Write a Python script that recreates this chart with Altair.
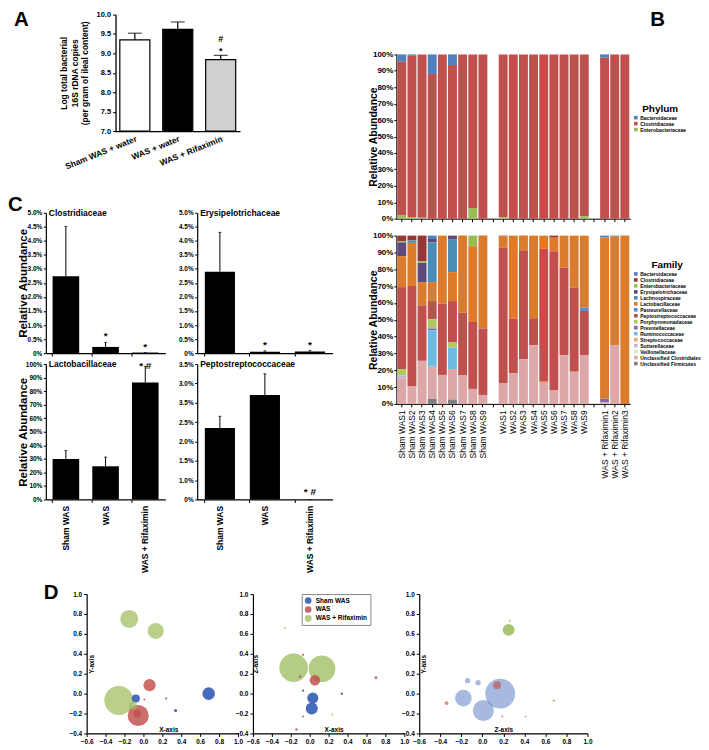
import altair as alt
import pandas as pd

FONT = "Liberation Sans"

# ---------------- Panel A data ----------------
a_groups = ["Sham WAS + water", "WAS + water", "WAS + Rifaximin"]
a_means = [9.35, 9.62, 8.84]
a_errs = [0.17, 0.19, 0.11]
a_star = ["", "", "*"]
a_hash = ["", "", "#"]
a_ticks = [7.0, 7.5, 8.0, 8.5, 9.0, 9.5, 10.0]
a_title = ["Log total bacterial", "16S rDNA copies", "(per gram of ileal content)"]
a_fills = ["white", "black", "#d0d0d0"]

# ---------------- Panel B data ----------------
sham_ids = ["Sham WAS1", "Sham WAS2", "Sham WAS3", "Sham WAS4", "Sham WAS5",
            "Sham WAS6", "Sham WAS7", "Sham WAS8", "Sham WAS9"]
was_ids = ["WAS1", "WAS2", "WAS3", "WAS4", "WAS5", "WAS6", "WAS7", "WAS8", "WAS9"]
rif_ids = ["WAS + Rifaximin1", "WAS + Rifaximin2", "WAS + Rifaximin3"]
sample_ids = sham_ids + was_ids + rif_ids
x_slots = sham_ids + [" "] + was_ids + ["  "] + rif_ids

phyla = ["Bacteroidaceae", "Clostridiaceae", "Enterobacteriaceae"]
phy_bacteroidaceae = [4.5, 0.5, 0, 12.0, 0, 6.5, 0, 0, 0,
                      0, 0, 0, 0, 0, 0, 0, 0, 0,
                      2.0, 0, 0]
phy_clostridiaceae = [93.5, 98.5, 99.5, 88.0, 100, 93.5, 100, 93.5, 100,
                      99.2, 100, 100, 100, 100, 100, 100, 100, 98.5,
                      98.0, 100, 100]
phy_enterobacteriaceae = [2.0, 1.0, 0.5, 0, 0, 0, 0, 6.5, 0,
                          0.8, 0, 0, 0, 0, 0, 0, 0, 1.5,
                          0, 0, 0]
phy_colors = ["#4F81BD", "#C0504D", "#9BBB59"]

families = ["Bacteroidaceae", "Clostridiaceae", "Enterobacteriaceae", "Erysipelotrichaceae",
            "Lachnospiraceae", "Lactobacillaceae", "Pasteurellaceae", "Peptostreptococcaceae",
            "Porphyromonadaceae", "Prevotellaceae", "Ruminococcaceae", "Streptococcaceae",
            "Sutterellaceae", "Veillonellaceae", "Unclassified Clostridiales",
            "Unclassified Firmicutes"]
f_bacteroidaceae = [0, 0, 0, 2.0, 0, 0, 0, 0, 0,   0, 0, 0, 0, 0, 0, 0, 0, 0,   1.2, 0.6, 0]
f_clostridiaceae = [3.4, 2.8, 15.2, 0, 0, 0, 0, 0, 0,   0.5, 0, 0, 0, 0, 1.2, 0, 0, 0,   0, 0, 0]
f_enterobacteriaceae = [0.6, 0, 1.0, 0, 0, 0, 0, 6.3, 0,   0, 0, 0, 0, 0, 0, 0, 0, 0,   0, 0, 0]
f_erysipelotrichaceae = [8.2, 0, 11.4, 2.0, 0, 2.4, 0, 0, 0,   0, 0, 0, 0, 0, 0, 0, 0, 0,   0, 0, 0]
f_lachnospiraceae = [0, 1.5, 0, 23.6, 0, 19.3, 0, 0, 0,   0, 0, 0, 0, 0, 0, 0, 0, 0,   0, 0, 0]
f_lactobacillaceae = [18.4, 25.7, 13.8, 11.3, 40.4, 17.2, 45.8, 45.0, 55.2,
                      6.8, 49.3, 8.7, 49.1, 7.9, 8.1, 19.1, 31.0, 42.8,
                      95.8, 64.5, 100.0]
f_pasteurellaceae = [0, 0, 0, 0, 0, 0, 0, 0, 0,   0, 0, 0, 0, 0, 0, 0, 0, 2.0,   0, 0, 0]
f_peptostreptococcaceae = [48.7, 59.7, 33.0, 10.8, 42.4, 24.6, 37.4, 39.8, 39.5,
                           80.3, 32.6, 64.7, 16.0, 78.9, 82.8, 51.9, 49.9, 26.2,
                           0, 0, 0]
f_porphyromonadaceae = [3.9, 0, 0, 5.5, 0, 3.0, 0, 0, 0,   0, 0, 0, 0, 0, 0, 0, 0, 0,   0, 0, 0]
f_prevotellaceae = [0, 0, 0, 1.0, 0, 0, 0, 0, 0,   0, 0, 0, 0, 0, 0, 0, 0, 0,   2.0, 0, 0]
f_ruminococcaceae = [0, 0, 0, 21.7, 0, 12.8, 0, 0, 0,   0, 0, 0, 0, 0, 0, 0, 0, 0,   0, 0, 0]
f_streptococcaceae = [0, 0, 0, 0, 0, 0, 0, 0, 0,   0, 0, 0, 0, 0.8, 0, 0, 0, 0,   0, 0, 0]
f_sutterellaceae = [1.6, 0, 0, 0, 0, 0, 0, 0, 0,   0, 0, 0, 0, 0, 0, 0, 0, 0,   0, 0, 0]
f_veillonellaceae = [0, 0, 0, 0, 0, 0, 0, 0, 0,   0, 0, 0, 0, 0, 0, 0, 0, 0,   0, 0, 0]
f_uncl_clostridiales = [15.2, 10.3, 25.6, 19.1, 17.2, 18.1, 16.8, 8.9, 5.3,
                        12.4, 18.1, 26.6, 34.9, 12.4, 7.9, 29.0, 19.1, 29.0,
                        1.0, 34.9, 0]
f_uncl_firmicutes = [0, 0, 0, 3.0, 0, 2.6, 0, 0, 0,   0, 0, 0, 0, 0, 0, 0, 0, 0,   0, 0, 0]
fam_colors = ["#4F81BD", "#953735", "#9BBB59", "#604A7B", "#4A8DB7", "#DB7B2B",
              "#558ED5", "#C0504D", "#B0C95E", "#7E6AAE", "#6FBBE0", "#F2A15F",
              "#C3B5D9", "#D8E4BC", "#DCA7A6", "#7F7F7F"]

# ---------------- Panel C data ----------------
c_groups = ["Sham WAS", "WAS", "WAS + Rifaximin"]
clos_mean = [2.74, 0.22, 0.02]
clos_err = [1.77, 0.16, 0.0]
clos_sig = ["", "*", "*"]
erys_mean = [2.9, 0.05, 0.06]
erys_err = [1.4, 0.03, 0.03]
erys_sig = ["", "*", "*"]
lact_mean = [29.8, 24.5, 86.3]
lact_err = [6.3, 6.8, 12.0]
lact_sig = ["", "", "* #"]
pept_mean = [1.85, 2.7, 0.0]
pept_err = [0.3, 0.55, 0.0]
pept_sig = ["", "", "* #"]
pct5_ticks = [0, 0.5, 1.0, 1.5, 2.0, 2.5, 3.0, 3.5, 4.0, 4.5, 5.0]
pct100_ticks = [0, 10, 20, 30, 40, 50, 60, 70, 80, 90, 100]
pept_ticks = [0, 0.5, 1.0, 1.5, 2.0, 2.5, 3.0, 3.5]
pept_tick_labels = ["0%", "1.0%", "1.5%", "2.0%", "2.5%", "3.5%", "3.0%", "3.5%"]

# ---------------- Panel D data ----------------
d_groups = ["Sham WAS", "WAS", "WAS + Rifaximin"]
d_colors = ["#3F63B8", "#C0504D", "#9BBB59"]
d_xticks = [-0.6, -0.4, -0.2, 0.0, 0.2, 0.4, 0.6, 0.8, 1.0]
d_yticks = [-0.4, -0.2, 0.0, 0.2, 0.4, 0.6, 0.8, 1.0]

d1_group = ["WAS + Rifaximin"] * 4 + ["WAS"] * 4 + ["Sham WAS"] * 4
d1_x = [-0.15, 0.13, -0.26, -0.11, 0.065, -0.055, -0.065, 0.01, -0.08, 0.69, 0.34, 0.24]
d1_y = [0.75, 0.63, -0.07, -0.12, 0.085, -0.22, -0.20, -0.06, -0.05, 0.0, -0.17, -0.05]
d1_s = [330, 260, 850, 60, 150, 450, 55, 4, 65, 160, 10, 4]

d2_group = ["WAS + Rifaximin"] * 4 + ["WAS"] * 6 + ["Sham WAS"] * 4
d2_x = [-0.17, 0.13, -0.26, 0.24, 0.055, -0.07, -0.10, 0.70, -0.14, -0.07, 0.033, 0.022, -0.07, 0.34]
d2_y = [0.26, 0.25, 0.66, -0.21, 0.135, 0.39, 0.17, 0.16, -0.36, -0.23, -0.045, -0.15, 0.03, 0.0]
d2_s = [820, 720, 4, 4, 110, 5, 6, 8, 6, 4, 125, 145, 5, 6]

d3_group = ["WAS + Rifaximin"] * 3 + ["WAS"] * 3 + ["Sham WAS"] * 6
d3_x = [0.25, 0.26, 0.68, 0.14, -0.34, 0.19, 0.17, 0.01, -0.18, -0.14, -0.04, 0.41]
d3_y = [0.64, 0.73, -0.07, 0.085, -0.095, -0.23, 0.0, -0.17, -0.045, 0.13, 0.11, -0.23]
d3_s = [140, 4, 6, 60, 15, 4, 900, 450, 280, 28, 28, 4]

RES = dict(color="independent", opacity="independent", size="independent")


# ---------------- helpers ----------------
def spacer(w, h):
    return (alt.Chart(pd.DataFrame({"s": [0]}))
            .mark_point(opacity=0)
            .encode(x=alt.value(0), y=alt.value(0))
            .properties(width=w, height=h))


def label_text(txt, x, y, size, align="left", baseline="alphabetic"):
    return (alt.Chart(pd.DataFrame({"t": [txt]}))
            .mark_text(align=align, baseline=baseline, fontSize=size,
                       fontWeight="bold", color="black")
            .encode(text="t:N", x=alt.value(x), y=alt.value(y)))


def letter(txt, x, y):
    return label_text(txt, x, y, 20.5)


# ---------------- Panel A ----------------
dfA = pd.DataFrame({"group": a_groups, "mean": a_means, "err": a_errs,
                    "star": a_star, "hash": a_hash})
dfA["top"] = dfA["mean"] + dfA["err"]
xA_axis = alt.Axis(title=None, labelAngle=-22, labelAlign="right", labelBaseline="top",
                   labelFontSize=8.5, labelFontWeight="bold", ticks=False,
                   labelPadding=3, domainWidth=1.3, labelLimit=0)
xA_scale = alt.Scale(domain=a_groups, paddingInner=0.3, paddingOuter=0.1)
xA = alt.X("group:N", sort=a_groups, scale=xA_scale, axis=xA_axis)
yA_axis = alt.Axis(values=a_ticks, format=".1f", title=a_title,
                   titleFontSize=8.5, titleFontWeight="bold", titleX=-47,
                   titleLineHeight=10.5, labelFontSize=7.5, labelFontWeight="bold",
                   tickSize=3, domainWidth=1.3, labelOverlap=False, labelFlush=False)
yA_scale = alt.Scale(domain=[7, 10], nice=False)
yA = alt.Y("mean:Q", scale=yA_scale, axis=yA_axis)
yA_top = alt.Y("top:Q", scale=yA_scale, axis=yA_axis)
baseA = alt.Chart(dfA)
barA = baseA.mark_bar(stroke="black", strokeWidth=1.2).encode(
    x=xA, y=yA, y2=alt.Y2(datum=7),
    fill=alt.Fill("group:N", scale=alt.Scale(domain=a_groups, range=a_fills), legend=None))
errA = baseA.mark_rule(color="black", strokeWidth=1.2).encode(x=xA, y=yA, y2="top:Q")
capA = baseA.mark_tick(color="black", thickness=1.2, size=14).encode(x=xA, y=yA_top)
starA = baseA.mark_text(fontSize=9, fontWeight="bold", baseline="alphabetic", dy=-1.5,
                        color="black").encode(x=xA, y=yA_top, text="star:N")
hashA = baseA.mark_text(fontSize=9, fontWeight="bold", baseline="alphabetic", dy=-13,
                        color="black").encode(x=xA, y=yA_top, text="hash:N")
panelA = alt.layer(barA, errA, capA, starA, hashA, letter("A", -102, 11)).properties(
    width=125, height=117)
rowA = alt.hconcat(spacer(70, 117), panelA, spacing=0, bounds="flush").resolve_scale(**RES)


# ---------------- Panel B ----------------
def long_table(names, series):
    rows = []
    for rank, (name, vals) in enumerate(zip(names, series)):
        for s, v in zip(sample_ids, vals):
            if v > 0:
                rows.append({"sample": s, "taxon": name, "value": v, "rank": rank})
    return pd.DataFrame(rows)


dfP = long_table(phyla, [phy_bacteroidaceae, phy_clostridiaceae, phy_enterobacteriaceae])
dfF = long_table(families, [f_bacteroidaceae, f_clostridiaceae, f_enterobacteriaceae,
                            f_erysipelotrichaceae, f_lachnospiraceae, f_lactobacillaceae,
                            f_pasteurellaceae, f_peptostreptococcaceae, f_porphyromonadaceae,
                            f_prevotellaceae, f_ruminococcaceae, f_streptococcaceae,
                            f_sutterellaceae, f_veillonellaceae, f_uncl_clostridiales,
                            f_uncl_firmicutes])

yB = alt.Y("value:Q", stack="zero", scale=alt.Scale(domain=[0, 100], nice=False),
           axis=alt.Axis(values=pct100_ticks, labelExpr="datum.value + '%'",
                         labelFontSize=8, labelFontWeight="bold", title="Relative Abundance",
                         titleFontSize=10.5, titleFontWeight="bold", titleX=-18,
                         tickSize=2.5, labelPadding=1, labelOverlap=False, labelFlush=False))
bscale = alt.Scale(domain=x_slots, paddingInner=0.12, paddingOuter=0.1)


def b_legend(title, ly):
    return alt.Legend(title=title, orient="none", legendX=238, legendY=ly,
                      titleFontSize=10, titleFontWeight="bold", titleAnchor="middle",
                      titlePadding=1, labelFontSize=5, labelFontWeight="bold",
                      symbolType="square", symbolSize=13, symbolStrokeWidth=0,
                      rowPadding=0, labelOffset=2)


panelBtop = alt.layer(
    alt.Chart(dfP).mark_bar().encode(
        x=alt.X("sample:N", sort=x_slots, scale=bscale,
                axis=alt.Axis(title=None, labels=False, tickSize=3)),
        y=yB,
        color=alt.Color("taxon:N", scale=alt.Scale(domain=phyla, range=phy_colors),
                        legend=b_legend("Phylum", 50)),
        order=alt.Order("rank:Q", sort="descending")),
    letter("B", 255, -29),
).properties(width=235, height=165)

panelBbot = alt.Chart(dfF).mark_bar().encode(
    x=alt.X("sample:N", sort=x_slots, scale=bscale,
            axis=alt.Axis(title=None, labelAngle=-90, labelAlign="right",
                          labelBaseline="middle", labelFontSize=8.5, labelPadding=3,
                          tickSize=3)),
    y=yB,
    color=alt.Color("taxon:N", scale=alt.Scale(domain=families, range=fam_colors),
                    legend=b_legend("Family", 25)),
    order=alt.Order("rank:Q", sort="descending"),
).properties(width=235, height=169)

colB = alt.vconcat(spacer(235, 23), panelBtop, panelBbot, spacing=17,
                   bounds="flush").resolve_scale(**RES)


# ---------------- Panel C ----------------
def c_panel(title, means, errs, sigs, sig_dy, ydomain, yticks, label_expr, width, height,
            show_x, show_ytitle, extra=None):
    df = pd.DataFrame({"group": c_groups, "mean": means, "err": errs, "sig": sigs})
    df["top"] = df["mean"] + df["err"]
    x_axis = alt.Axis(title=None, labels=show_x, labelAngle=-90, labelAlign="right",
                      labelBaseline="middle", labelFontSize=8.5, labelFontWeight="bold",
                      labelPadding=3, tickSize=3, bandPosition=0, domainWidth=1.2)
    ykw = dict(values=yticks, labelExpr=label_expr, labelFontSize=6.5, labelFontWeight="bold",
               tickSize=2.5, labelPadding=1.5, domainWidth=1.2, labelOverlap=False,
               labelFlush=False)
    if show_ytitle:
        y_axis = alt.Axis(title="Relative Abundance", titleFontSize=11.5,
                          titleFontWeight="bold", titleX=-17, **ykw)
    else:
        y_axis = alt.Axis(title=None, **ykw)
    x = alt.X("group:N", sort=c_groups,
              scale=alt.Scale(domain=c_groups, paddingInner=0.33, paddingOuter=0.17),
              axis=x_axis)
    y_scale = alt.Scale(domain=ydomain, nice=False)
    y = alt.Y("mean:Q", scale=y_scale, axis=y_axis)
    y_top = alt.Y("top:Q", scale=y_scale, axis=y_axis)
    base = alt.Chart(df)
    layers = [
        base.mark_bar(color="black").encode(x=x, y=y),
        base.mark_rule(color="black", strokeWidth=1).encode(x=x, y=y, y2="top:Q"),
        base.mark_tick(color="black", thickness=1, size=3).encode(x=x, y=y_top),
        base.mark_text(fontSize=10, fontWeight="bold", baseline="alphabetic", dy=sig_dy,
                       color="black").encode(x=x, y=y_top, text="sig:N"),
        label_text(title, 3, 0, 8.5, baseline="middle"),
    ]
    if extra is not None:
        layers.append(extra)
    return alt.layer(*layers).properties(width=width, height=height)


pct5_expr = "datum.value == 0 ? '0%' : format(datum.value, '.1f') + '%'"
pept_expr = "[" + ",".join("'" + s + "'" for s in pept_tick_labels) + "][round(datum.value * 2)]"

C1 = c_panel("Clostridiaceae", clos_mean, clos_err, clos_sig, -3, [0, 5], pct5_ticks,
             pct5_expr, 120, 141, False, True, extra=letter("C", -38, -2))
C2 = c_panel("Erysipelotrichaceae", erys_mean, erys_err, erys_sig, -3, [0, 5], pct5_ticks,
             pct5_expr, 136, 141, False, False)
C3 = c_panel("Lactobacillaceae", lact_mean, lact_err, lact_sig, 3, [0, 100], pct100_ticks,
             "datum.value + '%'", 120, 136, True, True)
C4 = c_panel("Peptostreptococcaceae", pept_mean, pept_err, pept_sig, -4, [0, 3.5], pept_ticks,
             pept_expr, 136, 136, True, False)
gridC = alt.concat(C1, C2, C3, C4, columns=2, spacing={"row": 11, "column": 32},
                   bounds="flush", align="each").resolve_scale(**RES)

colLeft = alt.vconcat(rowA, gridC, spacing=24).resolve_scale(**RES)
topRow = alt.hconcat(colLeft, colB, spacing=36).resolve_scale(**RES)


# ---------------- Panel D ----------------
def d_panel(groups, xs, ys, sizes, xtitle, ytitle, width, opac, xtitle_x, ytitle_x,
            legend=None, extra=None):
    df = pd.DataFrame({"group": groups, "x": xs, "y": ys, "size": sizes})
    axkw = dict(format=".1f", labelFontSize=6.5, labelFontWeight="bold", tickSize=3,
                titleFontSize=6.5, titleFontWeight="bold", labelFlush=False,
                labelOverlap=False, domainWidth=1.2, labelPadding=2)
    x_axis = alt.Axis(values=d_xticks, title=xtitle, titleY=-1, titleBaseline="bottom",
                      **axkw, **({"titleX": xtitle_x} if xtitle_x is not None else {}))
    y_axis = alt.Axis(values=d_yticks, title=ytitle, titleX=ytitle_x, **axkw)
    pts = alt.Chart(df).mark_circle().encode(
        x=alt.X("x:Q", scale=alt.Scale(domain=[-0.6, 1.0], nice=False), axis=x_axis),
        y=alt.Y("y:Q", scale=alt.Scale(domain=[-0.4, 1.0], nice=False), axis=y_axis),
        size=alt.Size("size:Q", scale=alt.Scale(domain=[0, 1000], range=[0, 1000]),
                      legend=None),
        color=alt.Color("group:N", scale=alt.Scale(domain=d_groups, range=d_colors),
                        legend=legend),
        opacity=alt.Opacity("group:N", scale=alt.Scale(domain=d_groups, range=opac),
                            legend=None),
        order=alt.Order("size:Q", sort="descending"),
    )
    layers = [pts] + ([extra] if extra is not None else [])
    return alt.layer(*layers).properties(width=width, height=140)


d_legend = alt.Legend(title=None, orient="none", legendX=49, legendY=0,
                      strokeColor="#888888", fillColor="white", padding=3,
                      symbolType="circle", symbolSize=45, symbolOpacity=1,
                      symbolStrokeWidth=0, labelFontSize=6.5, labelFontWeight="bold",
                      rowPadding=2)

D1 = d_panel(d1_group, d1_x, d1_y, d1_s, "X-axis", "Y-axis", 152, [0.95, 0.7, 0.55],
             82, 8, extra=letter("D", -43, 5))
D2 = d_panel(d2_group, d2_x, d2_y, d2_s, "X-axis", "Z-axis", 152, [0.95, 0.75, 0.6],
             81, 6, legend=d_legend)
D3 = d_panel(d3_group, d3_x, d3_y, d3_s, "Z-axis", "Y-axis", 169, [0.45, 0.85, 0.9],
             None, 7)
rowD = alt.hconcat(spacer(26, 140), D1, D2, D3, spacing=15, bounds="flush").resolve_scale(**RES)

chart = alt.vconcat(
    topRow, rowD, spacing=10,
    padding={"top": -8, "left": 0, "right": 0, "bottom": 0},
    background="white",
).resolve_scale(**RES).configure_view(
    stroke=None
).configure_axis(
    grid=False, domainColor="black", tickColor="black", labelColor="black",
    titleColor="black", labelFont=FONT, titleFont=FONT
).configure_text(font=FONT).configure_legend(
    labelFont=FONT, titleFont=FONT, labelColor="black", titleColor="black"
).configure_title(font=FONT, color="black")

chart.save("out.html", embed_options={"renderer": "svg", "actions": False})
